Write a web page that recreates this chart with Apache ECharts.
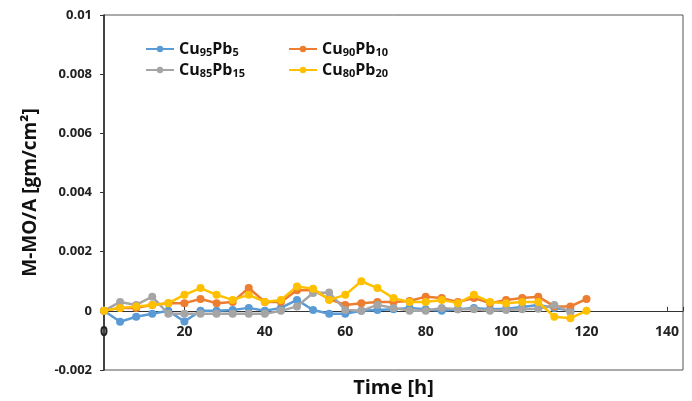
<!DOCTYPE html>
<html>
<head>
<meta charset="utf-8">
<script src="https://cdn.jsdelivr.net/npm/echarts@6/dist/echarts.min.js"></script>
<style>
  html, body { margin: 0; padding: 0; background: #fff; }
  #main { width: 692px; height: 401px; }
</style>
</head>
<body>
<div id="main"></div>
<script>
var times = [0, 4, 8, 12, 16, 20, 24, 28, 32, 36, 40, 44, 48, 52, 56, 60, 64, 68, 72, 76, 80, 84, 88, 92, 96, 100, 104, 108, 112, 116, 120];

var cu95pb5 = [0, -0.00037, -0.0002, -0.0001, 0, -0.00036, 0, 0, 0.00003, 0.0001, 0, 0.0001, 0.00037, 0.00003, -0.0001, -0.0001, 0, 0.00003, 0.00005, 0.0001, 0.00005, 0, 0.00005, 0.0001, 0.00005, 0.00007, 0.00013, 0.0002, 0.0001, 0, null];
var cu90pb10 = [0, 0.0001, 0.0001, 0.0002, 0.00026, 0.00026, 0.0004, 0.00026, 0.0003, 0.00077, 0.0003, 0.0003, 0.0007, 0.0007, 0.0004, 0.0002, 0.00026, 0.0003, 0.0003, 0.00033, 0.00048, 0.00043, 0.0003, 0.00043, 0.00026, 0.00037, 0.00043, 0.00048, 0.00015, 0.00015, 0.0004];
var cu85pb15 = [0, 0.0003, 0.0002, 0.00048, -0.0001, -0.0001, -0.0001, -0.0001, -0.0001, -0.0001, -0.0001, 0, 0.00015, 0.0006, 0.00062, 0.00003, 0, 0.0002, 0.0001, 0, 0, 0.0001, 0.00005, 0.00005, 0, 0.00003, 0.00005, 0.00007, 0.0002, -0.00005, null];
var cu80pb20 = [0, 0.0001, 0.00015, 0.0002, 0.00026, 0.00054, 0.00077, 0.00054, 0.00037, 0.00054, 0.0003, 0.00037, 0.00082, 0.00075, 0.00037, 0.00054, 0.001, 0.00077, 0.00043, 0.0003, 0.0003, 0.00037, 0.00026, 0.00054, 0.0003, 0.00026, 0.0003, 0.0003, -0.0002, -0.00025, 0];

var names = ["Cu95Pb5", "Cu90Pb10", "Cu85Pb15", "Cu80Pb20"];
var colors = ["#5B9BD5", "#ED7D31", "#A5A5A5", "#FFC000"];

// split "Cu95Pb5" into rich text with subscripts
function legendText(name) {
  var m = name.match(/Cu(\d+)Pb(\d+)/);
  return "{b|Cu}{s|" + m[1] + "}{b|Pb}{s|" + m[2] + "}";
}

function pairs(vals) {
  var out = [];
  times.forEach(function(t, i) {
    if (vals[i] !== null) out.push([t, vals[i]]);
  });
  return out;
}

var chart = echarts.init(document.getElementById("main"));

var legendRich = {
  b: { fontSize: 16, fontWeight: "bold", color: "#111", fontFamily: "Open Sans" },
  s: { fontSize: 11, fontWeight: "bold", color: "#111", fontFamily: "Open Sans", verticalAlign: "bottom", padding: [7, 0, 0, 0] }
};

function mkSeries(name, vals, color, z) {
  return {
    name: name,
    type: "line",
    data: pairs(vals),
    symbol: "circle",
    symbolSize: 8,
    z: z,
    lineStyle: { width: 2.5, color: color },
    itemStyle: { color: color },
    emphasis: { disabled: true },
    animation: false
  };
}

var option = {
  backgroundColor: "#fff",
  grid: {
    left: 104,
    right: 9,
    top: 15,
    bottom: 31,
    outerBoundsMode: "none",
    containLabel: false,
    show: true,
    borderColor: "#555",
    borderWidth: 1
  },
  legend: [
    {
      orient: "vertical",
      left: 140,
      top: 36,
      itemWidth: 28,
      itemHeight: 8,
      itemGap: 4,
      selectedMode: false,
      data: ["Cu95Pb5", "Cu85Pb15"],
      formatter: legendText,
      textStyle: { rich: legendRich }
    },
    {
      orient: "vertical",
      left: 283,
      top: 36,
      itemWidth: 28,
      itemHeight: 8,
      itemGap: 4,
      selectedMode: false,
      data: ["Cu90Pb10", "Cu80Pb20"],
      formatter: legendText,
      textStyle: { rich: legendRich }
    }
  ],
  xAxis: {
    type: "value",
    min: 0,
    max: 144,
    interval: 20,
    name: "Time [h]",
    nameLocation: "middle",
    nameGap: 8,
    nameTextStyle: { fontSize: 20, fontWeight: "bold", color: "#111", fontFamily: "Open Sans" },
    axisLine: { onZero: true, lineStyle: { color: "#333", width: 1.2 } },
    axisTick: { show: true, inside: true, length: 4, lineStyle: { color: "#333" } },
    axisLabel: {
      margin: -45,
      fontSize: 14,
      fontWeight: "bold",
      color: "#222",
      fontFamily: "Open Sans",
      formatter: function(v) { return v > 140 ? "" : String(v); }
    },
    splitLine: { show: false }
  },
  yAxis: {
    type: "value",
    min: -0.002,
    max: 0.01,
    interval: 0.002,
    name: "M-MO/A [gm/cm\u00b2]",
    nameLocation: "middle",
    nameGap: 64,
    nameTextStyle: { fontSize: 19, fontWeight: "bold", color: "#111", fontFamily: "Open Sans" },
    axisLine: { show: true, lineStyle: { color: "#222", width: 1.5 } },
    axisTick: { show: true, length: 4, lineStyle: { color: "#333" } },
    axisLabel: {
      margin: 12,
      fontSize: 13,
      fontWeight: "bold",
      color: "#222",
      fontFamily: "Open Sans",
      formatter: function(v) { return v === 0 ? "0" : String(Math.round(v * 1000) / 1000); }
    },
    splitLine: { show: false }
  },
  series: [
    mkSeries(names[0], cu95pb5, colors[0], 2),
    mkSeries(names[1], cu90pb10, colors[1], 3),
    mkSeries(names[2], cu85pb15, colors[2], 4),
    mkSeries(names[3], cu80pb20, colors[3], 5)
  ]
};

chart.setOption(option);
</script>
</body>
</html>
